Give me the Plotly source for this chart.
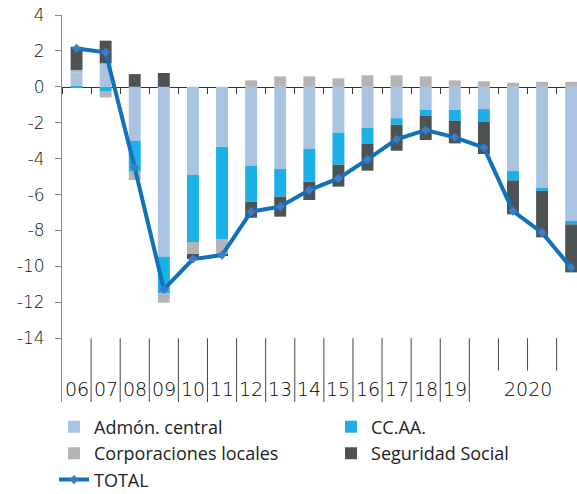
import plotly.graph_objects as go

categories = ["06", "07", "08", "09", "10", "11", "12", "13", "14", "15", "16",
              "17", "18", "19", "2020-I", "2020-II", "2020-III", "2020-IV"]
axis_labels = ["06", "07", "08", "09", "10", "11", "12", "13", "14", "15", "16",
               "17", "18", "19"]
group_label = "2020"

admon_central = [0.81, 1.31, -3.00, -9.46, -4.89, -3.33, -4.39, -4.58, -3.46, -2.57,
                 -2.28, -1.75, -1.29, -1.29, -1.24, -4.69, -5.62, -7.47]
ccaa = [-0.05, -0.27, -1.73, -2.04, -3.75, -5.14, -2.01, -1.54, -1.82, -1.77,
        -0.89, -0.36, -0.32, -0.60, -0.70, -0.52, -0.17, -0.19]
corp_locales = [0.13, -0.32, -0.46, -0.52, -0.67, -0.84, 0.36, 0.58, 0.58, 0.47,
                0.64, 0.64, 0.58, 0.36, 0.31, 0.23, 0.28, 0.28]
seg_social = [1.29, 1.26, 0.71, 0.77, -0.28, -0.09, -0.89, -1.11, -1.02, -1.22,
              -1.50, -1.45, -1.35, -1.26, -1.80, -1.89, -2.59, -2.67]
total = [2.14, 1.92, -4.50, -11.28, -9.59, -9.37, -6.95, -6.67, -5.75, -5.10,
         -4.04, -2.92, -2.41, -2.81, -3.39, -6.92, -8.12, -10.07]

y_ticks = [4, 2, 0, -2, -4, -6, -8, -10, -12, -14]
y_tick_text = ["4", "2", "0", "-2", "-4", "-6", "-8", "-10", "-12", "-14"]
Y_MIN, Y_MAX = -17.55, 4
FONT = "Open Sans, Lato, sans-serif"
TICK_FONT = "DejaVu Sans Light, DejaVu Sans, sans-serif"
TICK_WEIGHT = 200

fig = go.Figure()
series = [
    ("Admón. central", admon_central, "#A9C4E0"),
    ("CC.AA.", ccaa, "#1BB0E6"),
    ("Corporaciones locales", corp_locales, "#B2B4B5"),
    ("Seguridad Social", seg_social, "#4D5254"),
]
for name, vals, col in series:
    fig.add_trace(go.Bar(x=categories, y=vals, name=name,
                         marker=dict(color=col, line=dict(width=0))))

fig.add_trace(go.Scatter(x=categories, y=total, name="TOTAL", mode="lines+markers",
                         line=dict(color="#1172BA", width=4),
                         marker=dict(symbol="diamond", size=7, color="#3D7CC6")))

zero_pos = (0 - Y_MIN) / (Y_MAX - Y_MIN)

shapes = []
n = len(categories)
for i in range(len(axis_labels)):
    b = i + 0.5
    shapes.append(dict(type="line", xref="x", yref="y", x0=b, x1=b, y0=-14, y1=Y_MIN,
                       line=dict(color="#444", width=1)))
for i in range(len(axis_labels), n - 1):
    b = i + 0.5
    shapes.append(dict(type="line", xref="x", yref="y", x0=b, x1=b, y0=-14, y1=-15.8,
                       line=dict(color="#444", width=1)))

annotations = []
lab_font = dict(size=19, color="#000", family=TICK_FONT, weight=TICK_WEIGHT)
for i, lab in enumerate(axis_labels):
    annotations.append(dict(x=i, y=-16.85, xref="x", yref="y", text=lab, showarrow=False,
                            font=lab_font, xanchor="center", yanchor="middle"))
grp_center = (len(axis_labels) + n - 1) / 2
annotations.append(dict(x=grp_center, y=-16.85, xref="x", yref="y", text=group_label,
                        showarrow=False, font=lab_font,
                        xanchor="center", yanchor="middle"))

fig.update_layout(
    width=577, height=494,
    margin=dict(l=62, r=0, t=15, b=92, autoexpand=False),
    plot_bgcolor="white", paper_bgcolor="white",
    barmode="relative", bargap=0.59,
    font=dict(family=FONT, color="#222"),
    xaxis=dict(type="category", range=[-0.5, 17.2], anchor="free", position=zero_pos,
               showline=True, linecolor="#333", linewidth=1.3,
               ticks="outside", tickson="boundaries", ticklen=6, tickcolor="#333",
               showticklabels=False, showgrid=False, zeroline=False,
               layer="below traces"),
    yaxis=dict(range=[Y_MIN, Y_MAX], tickvals=y_ticks, ticktext=y_tick_text,
               showgrid=False, zeroline=False,
               showline=True, linecolor="#888", linewidth=1, ticks="outside",
               ticklen=6, tickcolor="#888", ticklabelstandoff=7,
               ticklabeloverflow="allow",
               tickfont=dict(size=17, color="#111", family=TICK_FONT,
                             weight=TICK_WEIGHT)),
    shapes=shapes,
    annotations=annotations,
    legend=dict(orientation="h", x=-0.0155, xanchor="left", y=-0.017, yanchor="top",
                entrywidth=232, entrywidthmode="pixels", traceorder="normal",
                font=dict(size=18, color="#222", family=FONT),
                itemwidth=30, tracegroupgap=0, bgcolor="rgba(0,0,0,0)"),
    showlegend=True,
)

fig.write_html("out.html", config={"displayModeBar": False},
               post_script="document.body.style.margin='0';document.body.style.padding='0';")
